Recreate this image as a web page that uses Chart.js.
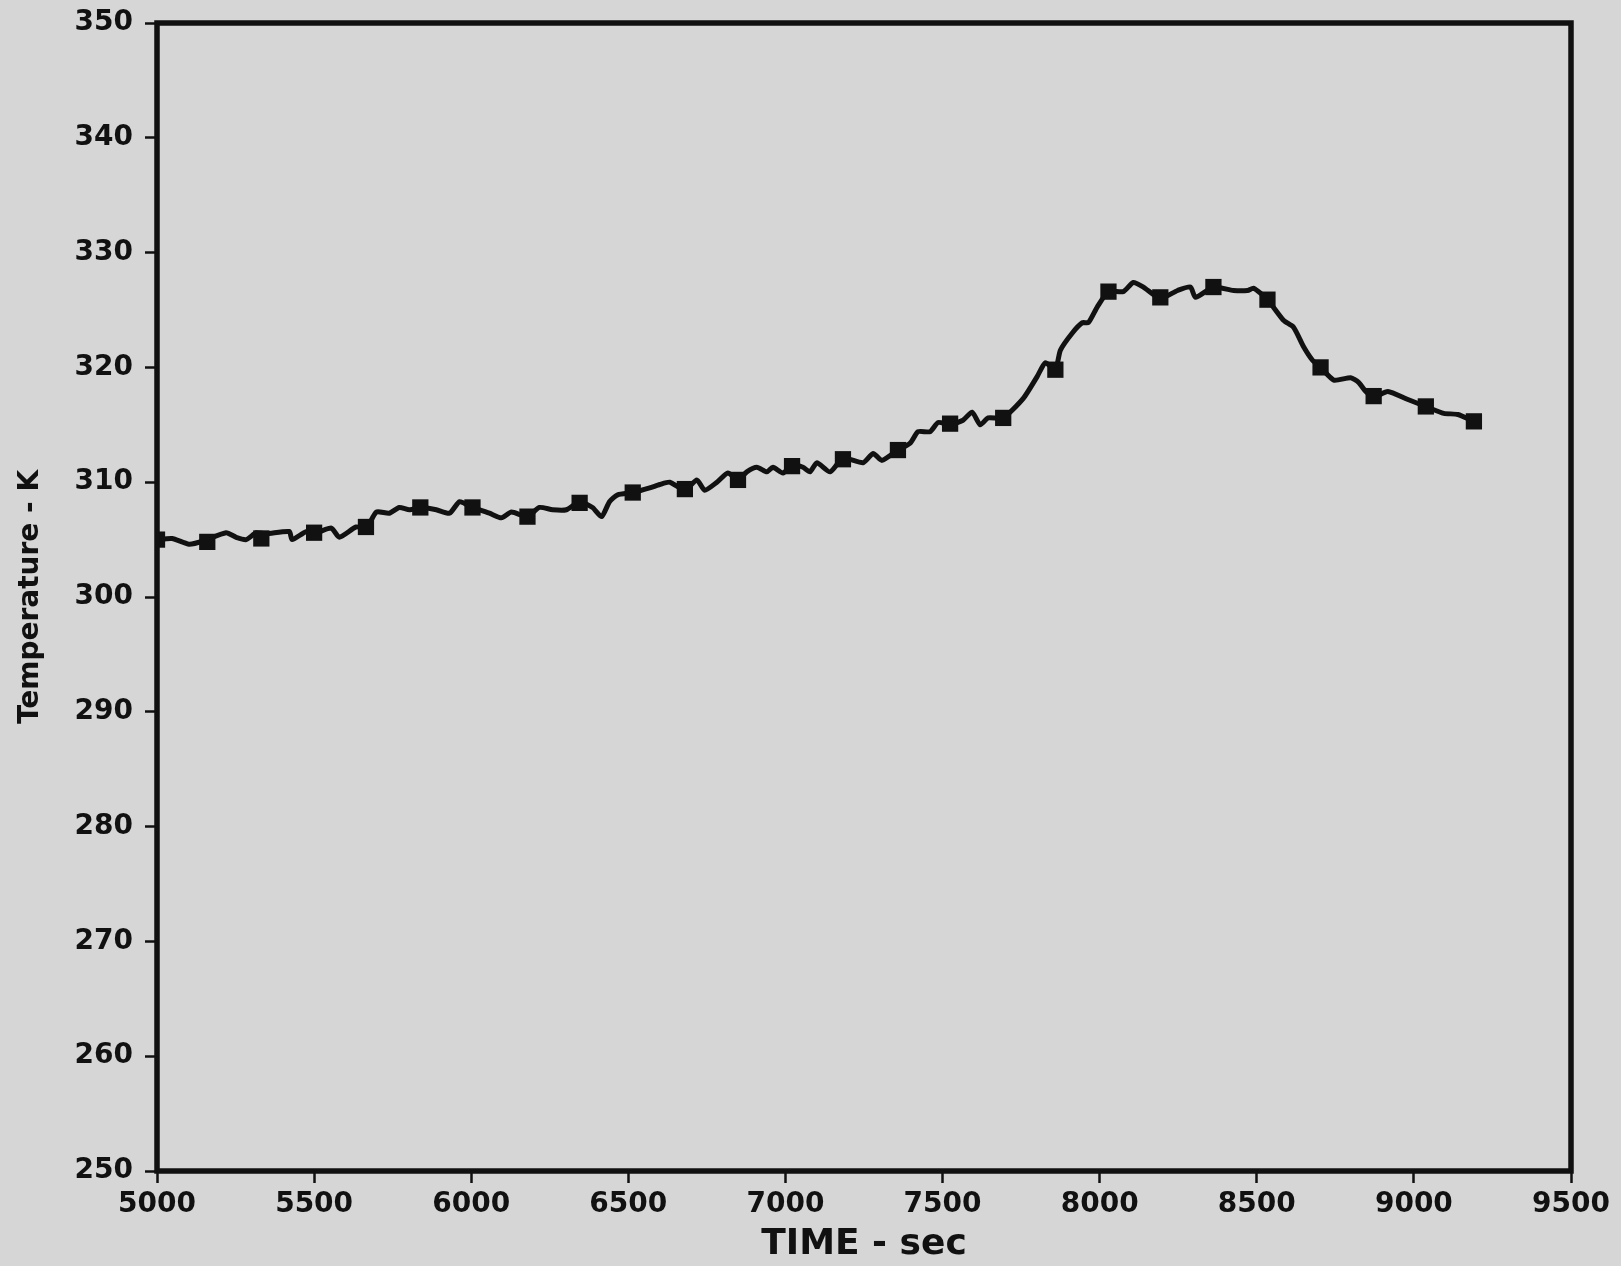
<!DOCTYPE html>
<html>
<head>
<meta charset="utf-8">
<title>Temperature vs Time</title>
<script src="https://cdn.jsdelivr.net/npm/chart.js@4/dist/chart.umd.min.js"></script>
<style>
  html, body { margin: 0; padding: 0; background: #d6d6d6; }
  #plot { display: block; }
</style>
</head>
<body>
<canvas id="plot" width="1621" height="1266"></canvas>
<script>
// ─── data ───
// continuous trace (time in sec, temperature in K)
const traceTime = [
  5000, 5048, 5102, 5150, 5220, 5252, 5284, 5316, 5347, 5421, 5430, 5475, 5507,
  5555, 5580, 5634, 5666, 5698, 5739, 5771, 5803, 5841, 5889, 5931, 5963, 6004,
  6058, 6096, 6128, 6179, 6217, 6259, 6303, 6345, 6386, 6415, 6440, 6466, 6514,
  6568, 6600, 6632, 6680, 6718, 6743, 6782, 6817, 6849, 6877, 6909, 6941, 6960,
  6992, 7021, 7056, 7078, 7100, 7142, 7183, 7247, 7279, 7307, 7358, 7397, 7422,
  7460, 7486, 7524, 7565, 7594, 7620, 7645, 7693, 7757, 7801, 7827, 7859, 7875,
  7913, 7945, 7964, 7993, 8028, 8075, 8107, 8139, 8193, 8248, 8289, 8305, 8362,
  8426, 8471, 8490, 8534, 8585, 8617, 8649, 8678, 8703, 8745, 8799, 8824, 8847,
  8872, 8917, 8981, 9038, 9095, 9140, 9191
];
const traceTemp = [
  305.0, 305.1, 304.6, 304.9, 305.6, 305.2, 305.0, 305.6, 305.5, 305.7, 305.0, 305.7, 305.6,
  306.0, 305.2, 306.1, 306.0, 307.4, 307.3, 307.8, 307.6, 307.8, 307.6, 307.3, 308.3, 307.8,
  307.3, 306.9, 307.4, 307.0, 307.8, 307.6, 307.6, 308.3, 307.8, 307.0, 308.3, 308.9, 309.1,
  309.5, 309.8, 310.0, 309.3, 310.2, 309.3, 310.0, 310.8, 310.2, 310.9, 311.3, 310.9, 311.3,
  310.8, 311.5, 311.3, 310.9, 311.7, 310.9, 312.1, 311.7, 312.5, 311.9, 312.8, 313.4, 314.4,
  314.4, 315.2, 315.0, 315.4, 316.1, 315.0, 315.6, 315.6, 317.3, 319.2, 320.4, 319.8, 321.5,
  323.0, 323.9, 323.9, 325.3, 326.6, 326.6, 327.4, 327.0, 326.0, 326.7, 327.0, 326.1, 327.0,
  326.7, 326.7, 326.9, 325.9, 324.1, 323.5, 321.8, 320.6, 320.0, 318.9, 319.1, 318.7, 317.9,
  317.4, 317.9, 317.2, 316.6, 316.0, 315.9, 315.3
];

// square symbols on the trace
const markerTime = [
  5000, 5160, 5332, 5500, 5665, 5838, 6004, 6179, 6345, 6514, 6680, 6849, 7021,
  7183, 7358, 7524, 7693, 7859, 8028, 8193, 8362, 8534, 8703, 8872, 9038, 9191
];
const markerTemp = [
  305.0, 304.8, 305.1, 305.6, 306.1, 307.8, 307.8, 307.0, 308.2, 309.1, 309.4, 310.2, 311.4,
  312.0, 312.8, 315.1, 315.6, 319.8, 326.6, 326.1, 327.0, 325.9, 320.0, 317.5, 316.6, 315.3
];

// axis ranges
const xRange = [5000, 9500];
const xStep = 500;
const yRange = [250, 350];
const yStep = 10;

// ─── style ───
const INK = '#111111';
const FONT = "'DejaVu Sans', sans-serif";

function toPoints(xs, ys) {
  return xs.map((x, i) => ({ x: x, y: ys[i] }));
}

// heavy frame round the plot area
const frameBox = {
  id: 'frameBox',
  afterDatasetsDraw(chart) {
    const { ctx, chartArea: a } = chart;
    ctx.save();
    ctx.strokeStyle = INK;
    ctx.lineWidth = 5.5;
    ctx.strokeRect(a.left, a.top, a.right - a.left, a.bottom - a.top);
    ctx.restore();
  }
};

const tickFont = { family: FONT, size: 28, weight: 'bold' };

new Chart(document.getElementById('plot'), {
  type: 'scatter',
  data: {
    datasets: [
      {
        data: toPoints(traceTime, traceTemp),
        showLine: true,
        borderColor: INK,
        borderWidth: 5,
        pointRadius: 0,
        tension: 0.2,
        order: 2,
      },
      {
        data: toPoints(markerTime, markerTemp),
        showLine: false,
        pointStyle: 'rect',
        pointRadius: 11.5,
        backgroundColor: INK,
        borderColor: INK,
        borderWidth: 0,
        order: 1,
      },
    ],
  },
  options: {
    responsive: false,
    animation: false,
    layout: { padding: { top: 23, right: 50, bottom: 0, left: 0 } },
    plugins: { legend: { display: false }, tooltip: { enabled: false } },
    scales: {
      x: {
        type: 'linear',
        min: xRange[0],
        max: xRange[1],
        border: { display: false },
        grid: { drawOnChartArea: false, drawTicks: true, tickLength: 12, tickWidth: 2.5, tickColor: INK },
        ticks: {
          stepSize: xStep,
          color: INK,
          font: tickFont,
          padding: 5,
          maxRotation: 0,
          callback: (v) => String(v),
        },
        title: {
          display: true,
          text: 'TIME - sec',
          color: INK,
          font: { family: FONT, size: 36, weight: 'bold' },
          padding: { top: 0, bottom: 0 },
        },
        afterFit: (s) => { s.height = 95; },
      },
      y: {
        type: 'linear',
        min: yRange[0],
        max: yRange[1],
        border: { display: false },
        grid: { drawOnChartArea: false, drawTicks: true, tickLength: 12, tickWidth: 2.5, tickColor: INK },
        ticks: {
          stepSize: yStep,
          color: INK,
          font: tickFont,
          padding: 12,
          callback: (v) => String(v),
        },
        title: {
          display: true,
          text: 'Temperature - K',
          color: INK,
          font: { family: FONT, size: 28, weight: 'bold' },
          padding: { top: 14, bottom: 0 },
        },
        // fixed width, and no extra headroom for the top label
        afterFit: (s) => { s.width = 157; s.paddingTop = 0; s.paddingBottom = 0; },
      },
    },
  },
  plugins: [frameBox],
});
</script>
</body>
</html>
